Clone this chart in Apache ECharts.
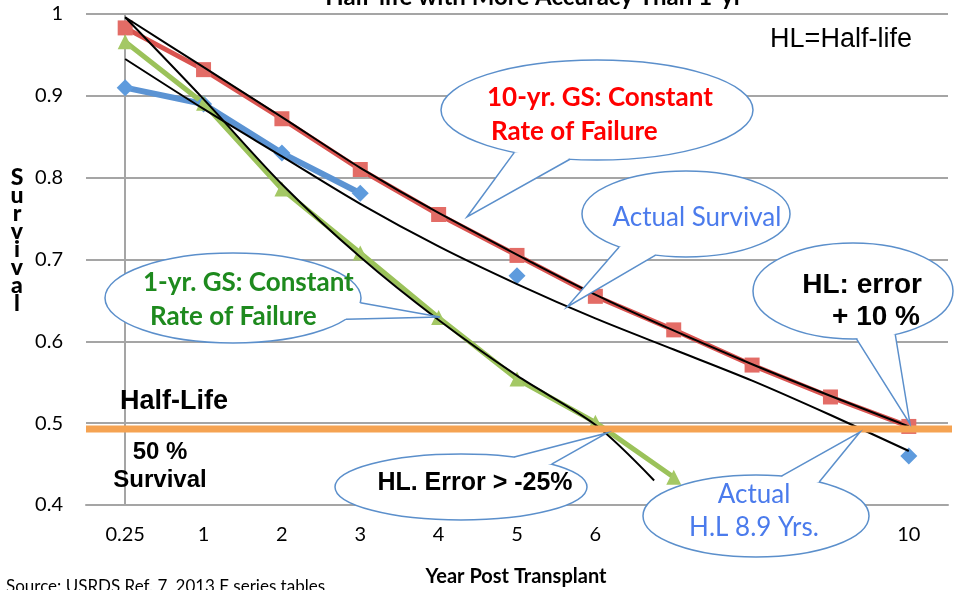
<!DOCTYPE html>
<html>
<head>
  <meta charset="utf-8">
  <script src="https://cdn.jsdelivr.net/npm/echarts@6/dist/echarts.min.js"></script>
</head>
<body style="margin:0">
<div id="main" style="width:956px;height:590px;"></div>
<script type="text/javascript">
// categories on the x axis
var years = ['0.25', '1', '2', '3', '4', '5', '6', '7', '8', '9', '10'];

// survival values (null = no point)
var gs10   = [0.983, 0.932, 0.872, 0.810, 0.755, 0.705, 0.655, 0.614, 0.571, 0.532, 0.496];
var actual = [0.910, 0.890, 0.830, 0.781, null, 0.680, null, null, null, null, 0.460];
var gs1    = [0.966, 0.891, 0.786, 0.708, 0.629, 0.554, 0.501, 0.434, null, null, null];

// hand drawn black trend lines (x = category position)
var trend10X  = [0, 1, 2, 3, 4, 6, 8, 10];
var trend10Y  = [0.996, 0.935, 0.874, 0.812, 0.757, 0.657, 0.572, 0.496];
var trend1X   = [0, 1, 2, 3, 4, 5, 6, 6.75];
var trend1Y   = [0.996, 0.896, 0.792, 0.703, 0.626, 0.558, 0.498, 0.430];
var trendMidX = [0, 1, 2, 3, 4, 5, 6, 7, 8, 9, 10];
var trendMidY = [0.945, 0.884, 0.826, 0.768, 0.716, 0.670, 0.628, 0.590, 0.552, 0.510, 0.466];

var halfLife = 0.493;

var pairs = function (xs, ys) {
  return xs.map(function (x, i) { return [x, ys[i] == null ? '-' : ys[i]]; });
};
var idx = years.map(function (_, i) { return i; });

var BORDER = '#5B8FCB';
var bubble = function (cx, cy, rx, ry, a1, a2, tip) {
  var p = function (a) {
    return [cx + rx * Math.cos(a * Math.PI / 180), cy + ry * Math.sin(a * Math.PI / 180)];
  };
  var b1 = p(a1), b2 = p(a2);
  var inner = [cx + ((b1[0] + b2[0]) / 2 - cx) * 0.85, cy + ((b1[1] + b2[1]) / 2 - cy) * 0.85];
  return [
    {type: 'ellipse', shape: {cx: cx, cy: cy, rx: rx, ry: ry}, style: {fill: '#fff', stroke: BORDER, lineWidth: 1.5}, z: 100},
    {type: 'polygon', shape: {points: [b1, tip, b2, inner]}, style: {fill: '#fff'}, z: 101},
    {type: 'polyline', shape: {points: [b1, tip, b2]}, style: {stroke: BORDER, lineWidth: 1.5, fill: null}, z: 102}
  ];
};
var txt = function (x, y, text, font, color, align) {
  return {type: 'text', x: x, y: y, z: 110,
    style: {text: text, font: font, fill: color || '#000', align: align || 'center', verticalAlign: 'middle'}};
};

var chart = echarts.init(document.getElementById('main'));

var graphics = [].concat(
  bubble(597, 110, 156, 50, 122, 100, [467, 217]),
  bubble(686, 214, 104, 43, 130, 107, [567, 307]),
  bubble(853, 291, 100, 48, 88, 65, [910, 424]),
  bubble(233, 298, 128, 45, 6, 28, [440, 317]),
  bubble(461, 487, 126, 33, -65, -44, [607, 433]),
  bubble(756, 516, 113, 41, -77, -56, [860, 432]),
  [
    txt(487, 98, '10-yr. GS: Constant', 'bold 26px Lato', '#FF0000', 'left'),
    txt(491, 132, 'Rate of Failure', 'bold 26px Lato', '#FF0000', 'left'),
    txt(697, 218, 'Actual Survival', '26px Lato', '#4B7BEC'),
    txt(922, 285, 'HL: error', 'bold 28px "Liberation Sans"', '#000', 'right'),
    txt(920, 317, '+ 10 %', 'bold 28px "Liberation Sans"', '#000', 'right'),
    txt(143, 283, '1-yr. GS: Constant', 'bold 26px Lato', '#1E8A1E', 'left'),
    txt(150, 317, 'Rate of Failure', 'bold 26px Lato', '#1E8A1E', 'left'),
    txt(475, 483, 'HL. Error > -25%', 'bold 25px "Liberation Sans"'),
    txt(754, 495, 'Actual', '26px Lato', '#4B7BEC'),
    txt(754, 528, 'H.L 8.9 Yrs.', '26px Lato', '#4B7BEC'),
    txt(174, 402, 'Half-Life', 'bold 27px "Liberation Sans"'),
    txt(160, 452, '50 %', 'bold 24px "Liberation Sans"'),
    txt(160, 480, 'Survival', 'bold 24px "Liberation Sans"'),
    txt(841, 40, 'HL=Half-life', '27px "Liberation Sans"'),
    {type: 'text', x: 534, y: 9, z: 110,
      style: {text: 'Half-life with More Accuracy Than 1-yr', font: 'bold 24px Lato', fill: '#000', align: 'center', verticalAlign: 'bottom'}},
    {type: 'text', x: 17, y: 169, z: 110,
      style: {text: 'S\nu\nr\nv\ni\nv\na\nl', font: '900 23px Lato', lineHeight: 18, fill: '#000', align: 'center', verticalAlign: 'top'}},
    txt(516, 577, 'Year Post Transplant', 'bold 20px Lato'),
    txt(6, 587, 'Source: USRDS Ref. 7, 2013 F series tables', '17px Lato', '#000', 'left')
  ]
);

chart.setOption({
  animation: false,
  grid: {left: 86, top: 14, right: 8, bottom: 85},
  xAxis: [
    {
      type: 'category',
      data: years,
      boundaryGap: true,
      axisLine: {lineStyle: {color: '#A5A5A5', width: 2}},
      axisTick: {length: 6, lineStyle: {color: '#A5A5A5', width: 2}},
      axisLabel: {margin: 20, color: '#000', fontFamily: 'Lato', fontSize: 20}
    },
    {type: 'value', min: -0.5, max: 10.5, show: false}
  ],
  yAxis: {
    type: 'value',
    min: 0.4,
    max: 1,
    interval: 0.1,
    axisLine: {show: true, lineStyle: {color: '#A5A5A5', width: 2}},
    axisTick: {show: true, length: 7, lineStyle: {color: '#A5A5A5', width: 2}},
    splitLine: {lineStyle: {color: '#A5A5A5', width: 2}},
    axisLabel: {
      margin: 23, color: '#000', fontFamily: 'Lato', fontSize: 20,
      formatter: function (v) { return v >= 1 ? '1' : v.toFixed(1); }
    }
  },
  series: [
    {
      name: '10-yr GS', type: 'line', xAxisIndex: 1, z: 3,
      data: pairs(idx, gs10),
      symbol: 'rect', symbolSize: 15,
      lineStyle: {color: '#D9534F', width: 5},
      itemStyle: {color: '#E36C66'}
    },
    {
      name: 'Actual', type: 'line', xAxisIndex: 1, z: 3,
      data: pairs(idx, actual),
      connectNulls: false,
      symbol: 'diamond', symbolSize: 17,
      lineStyle: {color: '#5B93D3', width: 6},
      itemStyle: {color: '#5E9BDD'}
    },
    {
      name: '1-yr GS', type: 'line', xAxisIndex: 1, z: 3,
      data: pairs(idx, gs1),
      symbol: 'triangle', symbolSize: 15,
      lineStyle: {color: '#9BC25A', width: 5},
      itemStyle: {color: '#A4C865'}
    },
    {
      type: 'line', xAxisIndex: 1, z: 4, symbol: 'none',
      data: pairs(trend10X, trend10Y), smooth: 0.3,
      lineStyle: {color: '#000', width: 2}
    },
    {
      type: 'line', xAxisIndex: 1, z: 4, symbol: 'none',
      data: pairs(trend1X, trend1Y), smooth: 0.3,
      lineStyle: {color: '#000', width: 2}
    },
    {
      type: 'line', xAxisIndex: 1, z: 4, symbol: 'none',
      data: pairs(trendMidX, trendMidY), smooth: 0.3,
      lineStyle: {color: '#000', width: 2}
    },
    {
      name: 'Half-life', type: 'line', xAxisIndex: 1, z: 5, symbol: 'none', clip: false,
      data: [[-0.5, halfLife], [10.7, halfLife]],
      lineStyle: {color: '#F5A352', width: 7}
    }
  ],
  graphic: graphics
});
</script>
</body>
</html>
